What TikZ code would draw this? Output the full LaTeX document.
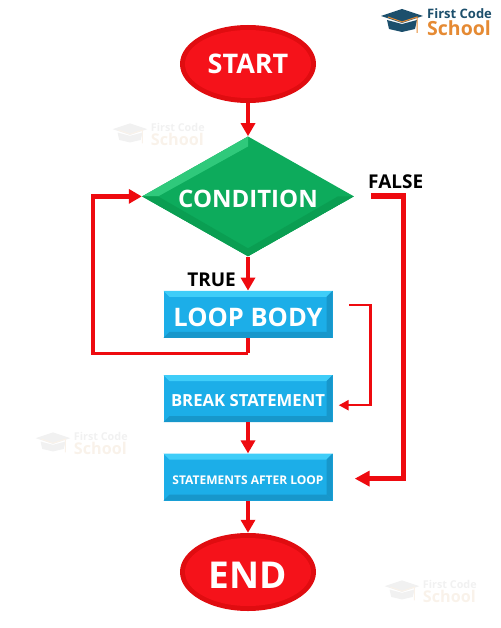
\documentclass[tikz,border=0pt]{standalone}
\usepackage{fontspec}
\setmainfont{Open Sans}
\usepackage{tikz}
\usetikzlibrary{arrows.meta, positioning, shapes.geometric}
\definecolor{flowred}{HTML}{EE0A0F}
\definecolor{termred}{HTML}{F5121A}
\definecolor{termrim}{HTML}{E00C10}
\definecolor{condgreen}{HTML}{0DAB5C}
\definecolor{condlight}{HTML}{2FC97B}
\definecolor{conddark}{HTML}{0A9E52}
\definecolor{boxblue}{HTML}{1CAEE8}
\definecolor{boxlight}{HTML}{3FCDF8}
\definecolor{boxdark}{HTML}{1797CB}
\definecolor{capteal}{HTML}{1C4F6C}
\definecolor{brandorange}{HTML}{E58A33}
\definecolor{markgray}{HTML}{F1F1F1}
\definecolor{markorange}{HTML}{F9F2EA}
\newcommand{\droptext}[2]{\raisebox{-#1}[\height][0pt]{#2}}
\tikzset{
  pics/brand/.style n args={3}{code={
    \fill[#1] (-21,1) -- (0,8) -- (21,1) -- (0,-6) -- cycle;
    \fill[#1] (-15,-3) -- (0,-7) -- (15,-3) -- (13,-12) -- (0,-15) -- (-13,-12) -- cycle;
    \draw[#3, line width=1pt] (-14,0) -- (0,-5) -- (15,0) -- (15,-16);
    \node[font=\bfseries\fontsize{13}{14}\selectfont, #2, inner sep=0, anchor=west] (top) at (25,3) {First Code};
    \node[font=\bfseries\fontsize{19.5}{20}\selectfont, #3, inner sep=0, anchor=west] (low) at (25,-11.5) {School};
  }}
}
\begin{document}
\begin{tikzpicture}[
  x=1pt, y=1pt,
  term/.style={ellipse, fill=termrim, minimum width=136pt, minimum height=78pt,
    inner sep=0pt, text=white, font=\bfseries\fontsize{27}{29}\selectfont,
    path picture={
      \fill[termred] (path picture bounding box.center) ellipse (63 and 34);
    }},
  cond/.style={diamond, aspect=1.77, fill=condgreen, minimum width=212pt, minimum height=120pt,
    inner sep=0pt, text=white, font=\bfseries\fontsize{24}{26}\selectfont,
    path picture={
      \fill[condlight] (path picture bounding box.west) -- (path picture bounding box.north)
        -- ([yshift=-10pt]path picture bounding box.north) -- ([xshift=16pt]path picture bounding box.west) -- cycle;
      \fill[conddark] (path picture bounding box.west) -- (path picture bounding box.south)
        -- ([yshift=8pt]path picture bounding box.south) -- ([xshift=16pt]path picture bounding box.west) -- cycle;
      \fill[conddark] (path picture bounding box.east) -- (path picture bounding box.south)
        -- ([yshift=8pt]path picture bounding box.south) -- ([xshift=-16pt]path picture bounding box.east) -- cycle;
    }},
  flowbox/.style={rectangle, fill=boxblue, minimum width=169pt, minimum height=47pt,
    inner sep=0pt, text=white, font=\bfseries,
    path picture={
      \fill[boxlight] (path picture bounding box.north west) -- (path picture bounding box.north east)
        -- ([xshift=-6pt,yshift=-6pt]path picture bounding box.north east)
        -- ([xshift=6pt,yshift=-6pt]path picture bounding box.north west) -- cycle;
      \fill[boxdark] (path picture bounding box.south west) -- (path picture bounding box.south east)
        -- ([xshift=-6pt,yshift=6pt]path picture bounding box.south east)
        -- ([xshift=6pt,yshift=6pt]path picture bounding box.south west) -- cycle;
      \fill[boxdark] (path picture bounding box.north east) -- (path picture bounding box.south east)
        -- ([xshift=-6pt,yshift=6pt]path picture bounding box.south east)
        -- ([xshift=-6pt,yshift=-6pt]path picture bounding box.north east) -- cycle;
    }},
  tag/.style={inner sep=0pt, font=\bfseries\fontsize{19}{21}\selectfont},
  flow/.style={draw=flowred, line width=3.5pt,
    -{Triangle[width=14pt,length=13pt,fill=flowred]}},
]
  \useasboundingbox (0,0) rectangle (500,-628);

  % Logo and watermarks
  \pic (logo) at (402,-17) {brand={capteal}{capteal}{brandorange}};
  \pic[scale=0.83, transform shape] (mark1) at (130,-130) {brand={markgray}{markgray}{markorange}};
  \pic[scale=0.83, transform shape] (mark2) at (53,-439) {brand={markgray}{markgray}{markorange}};
  \pic[scale=0.83, transform shape] (mark3) at (402,-587) {brand={markgray}{markgray}{markorange}};

  % Flow nodes
  \node[term] (start) at (248,-64) {START};
  \node[cond, below=33pt of start] (check) {\droptext{2pt}{CONDITION}};
  \node[flowbox, below=34pt of check, font=\bfseries\fontsize{25.5}{28}\selectfont] (body) {\droptext{2.5pt}{LOOP BODY}};
  \node[flowbox, below=37pt of body, font=\bfseries\fontsize{16.7}{18}\selectfont] (brk) {\droptext{2pt}{BREAK STATEMENT}};
  \node[flowbox, below=31pt of brk, font=\bfseries\fontsize{12}{14}\selectfont] (after) {\droptext{3pt}{STATEMENTS AFTER LOOP}};
  \node[term, below=32pt of after, font=\bfseries\fontsize{37}{39}\selectfont] (stop) {\droptext{3pt}{END}};

  % Free ends of the side lines
  \coordinate (loopc) at (93,-353);
  \coordinate (falseout) at (371,-196);
  \coordinate (brkout) at (349,-305);

  \node[tag, above left=4pt and 12pt of body.north] (truetag) {TRUE};
  \node[tag, above right=7pt and -3pt of falseout] (falsetag) {FALSE};

  % Connectors
  \draw[flow] (start) -- (check);
  \draw[flow] (check) -- (body);
  \draw[flow] (brk) -- (after);
  \draw[flow] (after) -- (stop);
  \draw[draw=flowred, line width=4.7pt] (body.south) -- (body.south|-loopc);
  \draw[draw=flowred, line width=3pt] (body.south|-loopc) -- (loopc);
  \draw[flow, line width=4.5pt] ([yshift=-1.5pt]loopc) |- (check.west);
  \draw[flow, line width=2.5pt, -{Triangle[width=10pt,length=10pt,fill=flowred]}]
    (brkout) -| ([xshift=38pt,yshift=-6.5pt]brk.east) -- ([xshift=6pt,yshift=-6.5pt]brk.east);
  \draw[flow, line width=5.5pt, -{Triangle[width=15pt,length=15pt,fill=flowred]}]
    (falseout) -| ([xshift=71pt,yshift=-1.5pt]after.east) -- ([xshift=22pt,yshift=-1.5pt]after.east);
\end{tikzpicture}
\end{document}
